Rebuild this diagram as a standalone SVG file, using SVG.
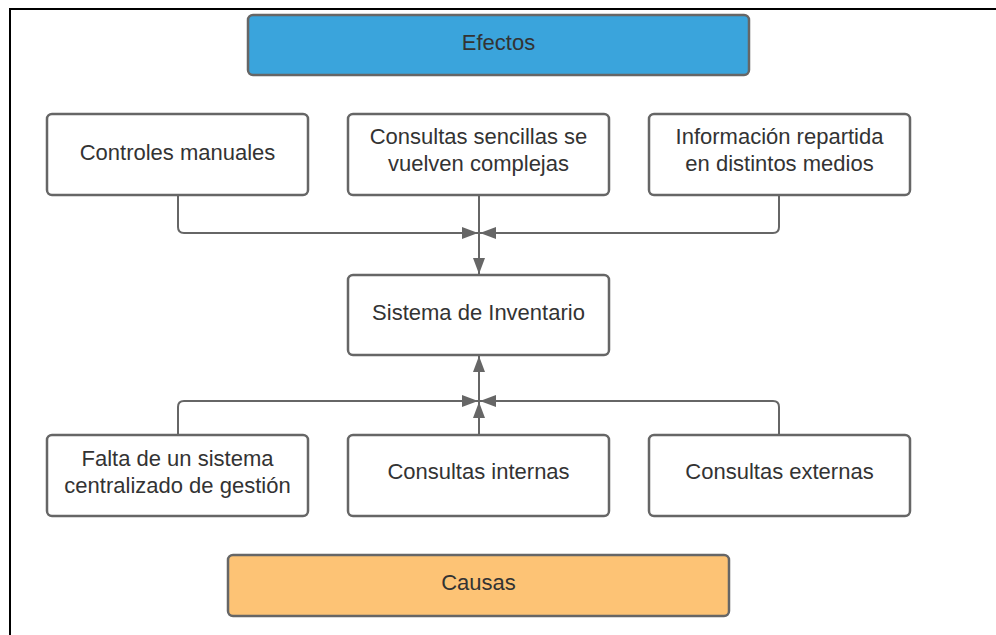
<svg xmlns="http://www.w3.org/2000/svg" width="996" height="635" viewBox="0 0 996 635">
<defs>
<style>
.box{fill:#fff;stroke:#666;stroke-width:2.5}
.t{font-family:"Liberation Sans",Arial,sans-serif;font-size:22px;fill:#333;text-anchor:middle}
.c{fill:none;stroke:#666;stroke-width:2}
</style>
<marker id="a" viewBox="0 0 16 12" refX="16" refY="6" markerWidth="16" markerHeight="12" markerUnits="userSpaceOnUse" orient="auto">
<path d="M0,0 L16,6 L0,12 z" fill="#666"/>
</marker>
</defs>
<rect x="0" y="0" width="996" height="635" fill="#fff"/>
<path d="M10,635 V9 H996" fill="none" stroke="#000" stroke-width="2"/>
<g id="connectors">
<path class="c" d="M178,196 V227 Q178,233 184,233 H478" marker-end="url(#a)"/>
<path class="c" d="M779,196 V227 Q779,233 773,233 H480" marker-end="url(#a)"/>
<path class="c" d="M479,196 V274" marker-end="url(#a)"/>
<path class="c" d="M178,434 V407 Q178,401 184,401 H478" marker-end="url(#a)"/>
<path class="c" d="M779,434 V407 Q779,401 773,401 H480" marker-end="url(#a)"/>
<path class="c" d="M479,434 V402" marker-end="url(#a)"/>
<path class="c" d="M479,402 V356" marker-end="url(#a)"/>
</g>
<g id="efectos"><rect x="248" y="15" width="501" height="60" rx="5" fill="#3aa4dc" stroke="#666" stroke-width="2.5"/><text class="t" x="498.5" y="49.5">Efectos</text></g>
<g id="controles"><rect class="box" x="47" y="114" width="261" height="81" rx="5"/><text class="t" x="177.5" y="159.5">Controles manuales</text></g>
<g id="consultas-sencillas"><rect class="box" x="348" y="114" width="261" height="81" rx="5"/><text class="t" x="478.5" y="144">Consultas sencillas se</text><text class="t" x="478.5" y="171">vuelven complejas</text></g>
<g id="informacion"><rect class="box" x="649" y="114" width="261" height="81" rx="5"/><text class="t" x="779.5" y="144">Información repartida</text><text class="t" x="779.5" y="171">en distintos medios</text></g>
<g id="sistema"><rect class="box" x="348" y="275" width="261" height="80" rx="5"/><text class="t" x="478.5" y="319.5">Sistema de Inventario</text></g>
<g id="falta"><rect class="box" x="47" y="435" width="261" height="81" rx="5"/><text class="t" x="177.5" y="465.5">Falta de un sistema</text><text class="t" x="177.5" y="492.5">centralizado de gestión</text></g>
<g id="internas"><rect class="box" x="348" y="435" width="261" height="81" rx="5"/><text class="t" x="478.5" y="479">Consultas internas</text></g>
<g id="externas"><rect class="box" x="649" y="435" width="261" height="81" rx="5"/><text class="t" x="779.5" y="479">Consultas externas</text></g>
<g id="causas"><rect x="228" y="555" width="501" height="61" rx="5" fill="#fdc375" stroke="#666" stroke-width="2.5"/><text class="t" x="478.5" y="589.5">Causas</text></g>
</svg>
